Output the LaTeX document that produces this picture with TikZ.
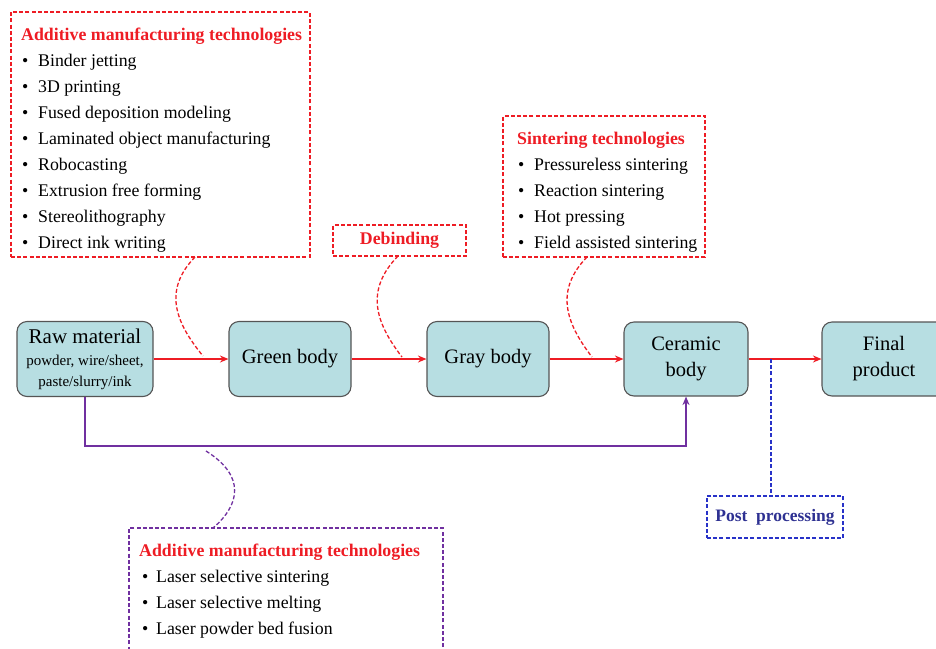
\documentclass[tikz,border=0pt]{standalone}
\usepackage{fontspec}
\setmainfont{Liberation Serif}
\usetikzlibrary{arrows.meta}
\definecolor{rd}{RGB}{238,28,36}
\definecolor{pu}{RGB}{112,48,160}
\definecolor{bl}{RGB}{40,50,200}
\definecolor{bltext}{RGB}{46,49,146}
\definecolor{boxfill}{RGB}{183,222,226}
\definecolor{boxgray}{RGB}{85,85,85}
\begin{document}
\begin{tikzpicture}[x=1pt,y=-1pt,
 proc/.style={draw=boxgray, fill=boxfill, rounded corners=10pt, line width=1.1pt, align=center, inner sep=0pt,
   font=\fontsize{20.5}{25}\selectfont},
 flow/.style={draw=rd, line width=1.4pt, -{Stealth[length=8.5pt,width=7pt]}},
 pflow/.style={draw=pu, line width=1.4pt, -{Stealth[length=8.5pt,width=7pt]}},
 dsh/.style={dash pattern=on 4pt off 2.2pt, line width=1.3pt},
 rbox/.style={draw=rd, dsh, inner sep=0pt},
 pbox/.style={draw=pu, dsh, inner sep=0pt},
 bbox/.style={draw=bl, dsh, inner sep=0pt},
 itm/.style={anchor=base west, inner sep=0pt, font=\fontsize{17.8}{20}\selectfont},
 ttl/.style={anchor=base west, inner sep=0pt, text=rd, font=\bfseries\fontsize{17.8}{20}\selectfont},
]
\useasboundingbox (0,0) rectangle (936,648);

% process boxes
\node[proc, minimum width=136pt, minimum height=75pt, font=\fontsize{15}{21}\selectfont] (raw) at (85,359)
  {{\fontsize{21}{21}\selectfont Raw material}\\[1pt]
   powder, wire/sheet,\\
   paste/slurry/ink};
\node[proc, minimum width=122pt, minimum height=75pt] (green) at (290,359) {Green body};
\node[proc, minimum width=122pt, minimum height=75pt] (gray) at (488,359) {Gray body};
\node[proc, minimum width=124pt, minimum height=74pt] (ceramic) at (686,359) {Ceramic\\[1pt] body};
\node[proc, minimum width=124pt, minimum height=74pt] (final) at (884,359) {Final\\[1pt] product};

% main flow
\draw[flow] (raw.east) -- (green.west);
\draw[flow] (green.east) -- (gray.west);
\draw[flow] (gray.east) -- (ceramic.west);
\draw[flow] (ceramic.east) -- (final.west);

% purple route
\coordinate (pturn) at (686,446);
\draw[pflow] (raw.south) |- (pturn) -- (ceramic.south);

% top-left AM box
\node[rbox, minimum width=299pt, minimum height=245pt] (amt) at (160.5,134.5) {};
\node[ttl] (amtt) at (21,40) {Additive manufacturing technologies};
\foreach \t [count=\i] in {Binder jetting, 3D printing, Fused deposition modeling,
  Laminated object manufacturing, Robocasting, Extrusion free forming,
  Stereolithography, Direct ink writing}{
  \node[itm] (amb\i) at (22,40+26*\i) {•};
  \node[itm] (ami\i) at (38,40+26*\i) {\t};
}
\coordinate (a1) at (195,257);
\coordinate (a2) at (203,356);
\draw[draw=rd, dsh] (a1) .. controls (163,290) and (175,322) .. (a2);

% debinding
\node[rbox, minimum width=133pt, minimum height=31pt, text=rd, font=\bfseries\fontsize{17.8}{20}\selectfont] (deb) at (399.5,240.5) {Debinding};
\coordinate (d1) at (398,256);
\coordinate (d2) at (402,357);
\draw[draw=rd, dsh] (d1) .. controls (365,290) and (375,322) .. (d2);

% sintering box
\node[rbox, minimum width=202pt, minimum height=141pt] (sin) at (604,186.5) {};
\node[ttl] (sint) at (517,144) {Sintering technologies};
\foreach \t [count=\i] in {Pressureless sintering, Reaction sintering, Hot pressing,
  Field assisted sintering}{
  \node[itm] (sinb\i) at (518,144+26*\i) {•};
  \node[itm] (sini\i) at (534,144+26*\i) {\t};
}
\coordinate (s1) at (587,257);
\coordinate (s2) at (592,357);
\draw[draw=rd, dsh] (s1) .. controls (555,290) and (565,322) .. (s2);

% post processing
\node[bbox, minimum width=136pt, minimum height=42pt, text=bltext, font=\bfseries\fontsize{17.5}{20}\selectfont] (post) at (775,517) {Post~~processing};
\coordinate (pp) at (771,359);
\draw[draw=bl, dsh] (pp) -- (pp |- post.north);

% bottom AM box
\node[pbox, minimum width=314pt, minimum height=140pt] (lam) at (286,598) {};
\node[ttl] (lamt) at (139,556) {Additive manufacturing technologies};
\foreach \t [count=\i] in {Laser selective sintering, Laser selective melting, Laser powder bed fusion}{
  \node[itm] (lamb\i) at (142,556+26*\i) {•};
  \node[itm] (lami\i) at (156,556+26*\i) {\t};
}
\coordinate (l1) at (206,451);
\coordinate (l2) at (213,528);
\draw[draw=pu, dsh] (l1) .. controls (246,476) and (240,505) .. (l2);
\end{tikzpicture}
\end{document}
